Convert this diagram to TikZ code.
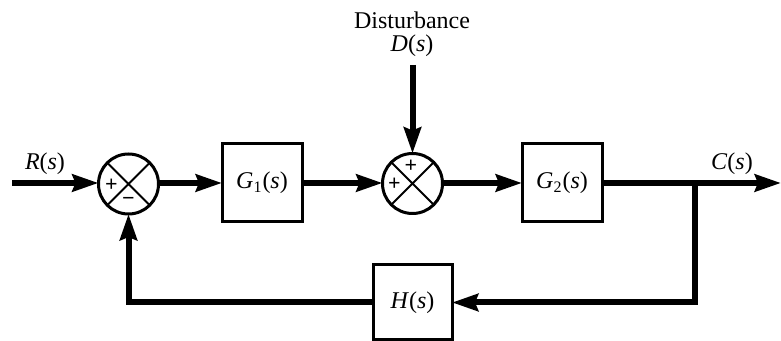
\documentclass[tikz,border=0pt]{standalone}
\usepackage{fontspec}
\setmainfont{Liberation Serif}
\usetikzlibrary{arrows.meta}
\begin{document}
\begin{tikzpicture}[x=0.5pt,y=-0.5pt,
  font=\fontsize{12}{14}\selectfont,
  blockbox/.style={draw,line width=1.5pt,minimum width=40pt,minimum height=39pt,inner sep=0pt,outer sep=0pt},
  sumnode/.style={draw,circle,line width=1.5pt,minimum size=30pt,inner sep=0pt,outer sep=0pt},
  sig/.style={line width=3pt,-{Stealth[length=13pt,width=8.5pt,inset=1.5pt]}},
  cross/.style={line width=0.9pt},
  sgn/.style={font=\fontsize{11}{12}\selectfont\bfseries,inner sep=0pt}]
\useasboundingbox (0,0) rectangle (781,341);
% nodes
\node[sumnode] (s1) at (128.5,184) {};
\node[sumnode] (s2) at (412.5,183.5) {};
\node[blockbox] (g1) at (262,183) {{\itshape G}\textsubscript{1}(\textit{s})};
\node[blockbox] (g2) at (562,183) {{\itshape G}\textsubscript{2}(\textit{s})};
\node[blockbox,minimum width=39.5pt,minimum height=37.5pt] (h) at (412.5,302.5) {\textit{H}(\textit{s})};
% crosses
\draw[cross] (s1.45) -- (s1.225) (s1.135) -- (s1.315);
\draw[cross] (s2.45) -- (s2.225) (s2.135) -- (s2.315);
% signs
\node[sgn] (p1) at (111.5,185) {+};
\node[sgn] (m1) at (128.5,201.5) {−};
\node[sgn] (p2) at (411,166.5) {+};
\node[sgn] (p3) at (394.5,184) {+};
% labels
\node[inner sep=0pt] (dist) at (412,20) {Disturbance};
\node[inner sep=0pt] (dlab) at (412,46) {\textit{D}(\textit{s})};
\node[inner sep=0pt] (rlab) at (45,164) {\textit{R}(\textit{s})};
\node[inner sep=0pt] (clab) at (732,164) {\textit{C}(\textit{s})};
% coordinates
\coordinate (rin) at (12,183);
\coordinate (dtop) at (412.5,65);
\coordinate (br) at (695,183);
\coordinate (out) at (781,183);
% connectors
\draw[sig] (rin) -- (s1.west |- rin);
\draw[sig] (s1.east |- g1.west) -- (g1.west);
\draw[sig] (g1.east) -- (s2.west |- g1.east);
\draw[sig] (dtop) -- (s2.north);
\draw[sig] (s2.east |- g2.west) -- (g2.west);
\draw[sig] (g2.east) -- (out);
\draw[sig] (br) |- (h.east);
\draw[sig] (h.west) -| (s1.south);
\end{tikzpicture}
\end{document}
